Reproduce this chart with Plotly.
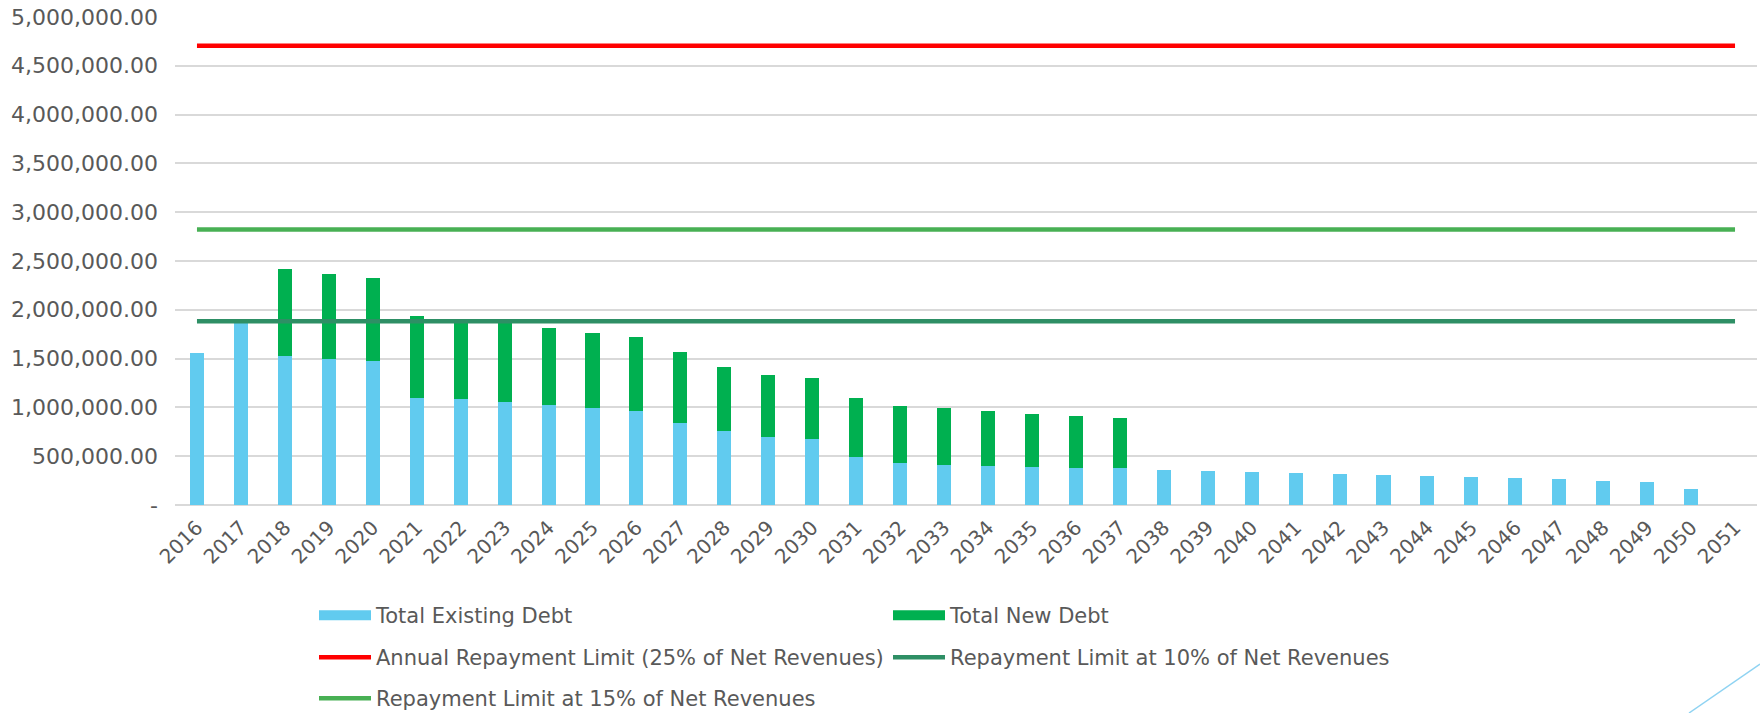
import plotly.graph_objects as go

years = [str(y) for y in range(2016, 2052)]

existing_debt = [1554000, 1860000, 1526000, 1501000, 1476000, 1099000, 1082000, 1052000,
                 1024000, 993000, 965000, 838000, 756000, 694000, 681000, 489000, 428000,
                 414000, 404000, 390000, 383000, 375000, 358000, 349000, 339000, 329000,
                 318000, 305000, 295000, 284000, 274000, 264000, 250000, 240000, 168000, None]

new_debt = [None, None, 888000, 867000, 850000, 835000, 808000, 818000, 786000, 765000,
            752000, 732000, 654000, 637000, 619000, 609000, 588000, 578000, 561000, 547000,
            527000, 513000, None, None, None, None, None, None, None, None, None, None,
            None, None, None, None]

limit_25 = 4705000
limit_10 = 1882000
limit_15 = 2823000

y_tickvals = [0, 500000, 1000000, 1500000, 2000000, 2500000, 3000000, 3500000, 4000000,
              4500000, 5000000]
y_ticktext = ["-", "500,000.00", "1,000,000.00", "1,500,000.00", "2,000,000.00",
              "2,500,000.00", "3,000,000.00", "3,500,000.00", "4,000,000.00",
              "4,500,000.00", "5,000,000.00"]

FONT = "DejaVu Sans"
TXT = "#595959"
C_EXIST = "#61CBEF"
C_NEW = "#00B050"

fig = go.Figure()
fig.add_trace(go.Bar(x=years, y=existing_debt, name="Total Existing Debt",
                     marker=dict(color=C_EXIST, line=dict(width=0)),
                     legendgroup="exist", showlegend=False))
fig.add_trace(go.Bar(x=years, y=new_debt, name="Total New Debt",
                     marker=dict(color=C_NEW, line=dict(width=0)),
                     legendgroup="new", showlegend=False))
# legend entries for the bars (wide rectangular swatches like the original)
fig.add_trace(go.Scatter(x=[None], y=[None], mode="lines", name="Total Existing Debt",
                         line=dict(color=C_EXIST, width=12), legendgroup="exist",
                         legend="legend", hoverinfo="skip"))
fig.add_trace(go.Scatter(x=[None], y=[None], mode="lines", name="Total New Debt",
                         line=dict(color=C_NEW, width=12), legendgroup="new",
                         legend="legend", hoverinfo="skip"))
fig.add_trace(go.Scatter(x=years, y=[limit_25] * len(years), mode="lines",
                         name="Annual Repayment Limit (25% of Net Revenues)",
                         line=dict(color="#FF0000", width=4.5), legend="legend2"))
fig.add_trace(go.Scatter(x=years, y=[limit_10] * len(years), mode="lines",
                         name="Repayment Limit at 10% of Net Revenues",
                         line=dict(color="#2E8F65", width=4.5), legend="legend2"))
fig.add_trace(go.Scatter(x=years, y=[limit_15] * len(years), mode="lines",
                         name="Repayment Limit at 15% of Net Revenues",
                         line=dict(color="#48B054", width=4.5), legend="legend3"))

W, H = 1760, 713
leg_common = dict(orientation="h", xref="container", yref="container", xanchor="left",
                  yanchor="top", entrywidth=507, entrywidthmode="pixels",
                  traceorder="normal", bgcolor="rgba(0,0,0,0)",
                  font=dict(family=FONT, size=21, color=TXT), itemwidth=52)

L, T, R, B = 175, 16, 3, 208
pw, ph = W - L - R, H - T - B

fig.update_layout(
    width=W, height=H,
    margin=dict(l=L, r=R, t=T, b=B, autoexpand=False),
    paper_bgcolor="white", plot_bgcolor="white",
    barmode="stack", bargap=0.68,
    font=dict(family=FONT, size=21, color=TXT),
    legend=dict(**leg_common, x=314 / W, y=1 - 595 / H),
    legend2=dict(**leg_common, x=314 / W, y=1 - 637 / H),
    legend3=dict(**leg_common, x=314 / W, y=1 - 678 / H),
    xaxis=dict(type="category", tickangle=-45, showgrid=False, showline=False,
               ticks="", tickfont=dict(family=FONT, size=20, color=TXT),
               ticklabelstandoff=6, automargin=False),
    yaxis=dict(range=[0, 5010000], tickvals=y_tickvals, ticktext=y_ticktext,
               showgrid=True, gridcolor="#D9D9D9", gridwidth=1.5,
               zeroline=True, zerolinecolor="#D9D9D9", zerolinewidth=1.5,
               showline=False, ticks="", ticklabelstandoff=16, automargin=False,
               ticklabeloverflow="allow",
               tickfont=dict(family=FONT, size=22, color=TXT)),
    shapes=[dict(type="line", xref="paper", yref="paper",
                 x0=(1689 - L) / pw, y0=(T + ph - 713) / ph,
                 x1=(1760 - L) / pw, y1=(T + ph - 664) / ph,
                 line=dict(color="#8FD3F2", width=1.5))],
)

fig.write_html("out.html", config={"displayModeBar": False},
               post_script="document.body.style.margin='0';")
